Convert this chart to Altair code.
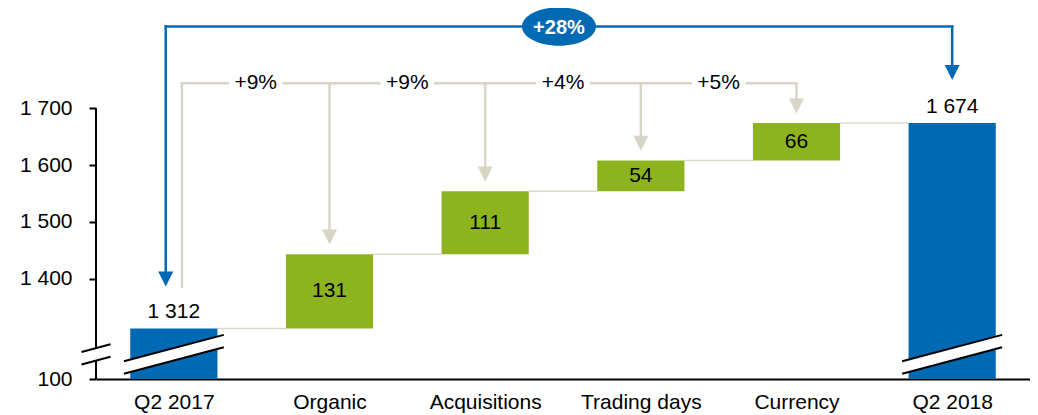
import altair as alt
import pandas as pd

# ---------------- data ----------------
categories = ["Q2 2017", "Organic", "Acquisitions", "Trading days", "Currency", "Q2 2018"]
start_value = 1312
deltas = [131, 111, 54, 66]
end_value = 1674
step_pct_labels = ["+9%", "+9%", "+4%", "+5%"]
total_pct_label = "+28%"
y_tick_values = [1400, 1500, 1600, 1700]
y_floor_label = "100"

# ---------------- style / layout constants ----------------
FONT = "Liberation Sans"
FS = 21
BLUE = "#0069B4"
GREEN = "#8DB41F"
GREY = "#D8D4C6"
CONN = "#DCD8CC"
Y_MIN, Y_MAX = 1223, 1875
BAR_HALF = 0.28
BRACKET_Y = 1744
TOTAL_Y = 1844
TIP_GAP = 17
BIG_GAP = 74
TEXT_GAP = 0.18
BLUE_LEFT_X = -0.052
GREY_LEFT_X = 0.052
BRK_Y = 1266.5
BRK_HX = 0.321
BRK_DY = 23.3
BRK_G = 11
AX_BRK_HX = 0.093
AX_BRK_DY = 6.8

n = len(categories)
xs = list(range(n))

levels = [start_value]
for d in deltas:
    levels.append(levels[-1] + d)

def fmt(v):
    return f"{v:,}".replace(",", " ")

bars = []
bars.append(dict(x=0, lo=0, hi=start_value, kind="total", label=fmt(start_value)))
for i, d in enumerate(deltas):
    bars.append(dict(x=i + 1, lo=levels[i], hi=levels[i + 1], kind="delta", label=str(d)))
bars.append(dict(x=n - 1, lo=0, hi=end_value, kind="total", label=fmt(end_value)))
bars_df = pd.DataFrame(bars)
bars_df["x1"] = bars_df["x"] - BAR_HALF
bars_df["x2"] = bars_df["x"] + BAR_HALF
bars_df["mid"] = (bars_df["lo"] + bars_df["hi"]) / 2

xscale = alt.Scale(domain=[-0.5, n - 0.5], nice=False, zero=False)
yscale = alt.Scale(domain=[Y_MIN, Y_MAX], nice=False, zero=False, clamp=True)

label_expr = "[" + ",".join("'" + c + "'" for c in categories) + "][datum.value]"
y_label_expr = (
    f"datum.value < {Y_MIN + 1} ? '{y_floor_label}' : "
    "replace(format(datum.value, ','), ',', ' ')"
)

x_axis = alt.Axis(values=xs, labelExpr=label_expr, ticks=False, grid=False,
                  domain=True, domainColor="#000000", domainWidth=2,
                  labelFont=FONT, labelFontSize=FS, labelColor="#000000",
                  labelPadding=12, labelBaseline="top", title=None)
y_axis = alt.Axis(values=[Y_MIN] + y_tick_values, labelExpr=y_label_expr,
                  domain=False, grid=False, tickColor="#000000", tickSize=7,
                  tickWidth=2, labelFont=FONT, labelFontSize=FS,
                  labelColor="#000000", labelPadding=17, title=None)


def X(field):
    return alt.X(field, scale=xscale, axis=x_axis)


def Y(field):
    return alt.Y(field, scale=yscale, axis=y_axis)


bar_layer = alt.Chart(bars_df).mark_rect().encode(
    x=X("x1:Q"), x2="x2:Q",
    y=Y("lo:Q"), y2="hi:Q",
    color=alt.Color("kind:N", scale=alt.Scale(domain=["total", "delta"], range=[BLUE, GREEN]),
                    legend=None),
)

axis_df = pd.DataFrame([dict(x=-0.5, y1=Y_MIN, y2=y_tick_values[-1])])
axis_line = alt.Chart(axis_df).mark_rule(color="#000000", strokeWidth=2).encode(
    x=X("x:Q"), y=Y("y1:Q"), y2="y2:Q",
)

conn = []
for i in range(n - 1):
    conn.append(dict(x1=i + BAR_HALF, x2=i + 1 - BAR_HALF, y=levels[min(i, len(levels) - 1)]))
conn_layer = alt.Chart(pd.DataFrame(conn)).mark_rule(color=CONN, strokeWidth=1.5).encode(
    x=X("x1:Q"), x2="x2:Q", y=Y("y:Q"),
)

top_labels = alt.Chart(bars_df[bars_df["kind"] == "total"]).mark_text(
    font=FONT, fontSize=FS, color="#000000", baseline="alphabetic", dy=-10.5
).encode(x=X("x:Q"), y=Y("hi:Q"), text="label:N")
in_labels = alt.Chart(bars_df[bars_df["kind"] == "delta"]).mark_text(
    font=FONT, fontSize=FS, color="#000000", baseline="middle"
).encode(x=X("x:Q"), y=Y("mid:Q"), text="label:N")

vx = [GREY_LEFT_X] + [i + 1 for i in range(len(deltas))]
gh, gv, gt, gtips = [], [], [], []
for k in range(len(deltas)):
    left, right = vx[k], vx[k + 1]
    mid = (left + right) / 2
    gh.append(dict(x1=left, x2=mid - TEXT_GAP, y=BRACKET_Y))
    gh.append(dict(x1=mid + TEXT_GAP, x2=right, y=BRACKET_Y))
    gt.append(dict(x=mid, y=BRACKET_Y, label=step_pct_labels[k]))
gv.append(dict(x=vx[0], y1=start_value + BIG_GAP, y2=BRACKET_Y))
for i in range(len(deltas)):
    tip = levels[i + 1] + TIP_GAP
    gv.append(dict(x=vx[i + 1], y1=tip + 8, y2=BRACKET_Y))
    gtips.append(dict(x=vx[i + 1], y=tip))

gh_layer = alt.Chart(pd.DataFrame(gh)).mark_rule(color=GREY, strokeWidth=2.5, strokeCap="square").encode(
    x=X("x1:Q"), x2="x2:Q", y=Y("y:Q"),
)
gv_layer = alt.Chart(pd.DataFrame(gv)).mark_rule(color=GREY, strokeWidth=2.5, strokeCap="square").encode(
    x=X("x:Q"), y=Y("y1:Q"), y2="y2:Q",
)
TRI = "M-1,-2 L1,-2 L0,0 Z"
gtip_layer = alt.Chart(pd.DataFrame(gtips)).mark_point(
    shape=TRI, filled=True, size=225, color=GREY, opacity=1, strokeWidth=0
).encode(x=X("x:Q"), y=Y("y:Q"))
gt_layer = alt.Chart(pd.DataFrame(gt)).mark_text(
    font=FONT, fontSize=FS, color="#000000", baseline="middle"
).encode(x=X("x:Q"), y=Y("y:Q"), text="label:N")

bh = [dict(x1=BLUE_LEFT_X, x2=n - 1, y=TOTAL_Y)]
bv = [dict(x=BLUE_LEFT_X, y1=start_value + BIG_GAP + 8, y2=TOTAL_Y),
      dict(x=n - 1, y1=end_value + BIG_GAP + 10, y2=TOTAL_Y)]
btips = [dict(x=BLUE_LEFT_X, y=start_value + BIG_GAP),
         dict(x=n - 1, y=end_value + BIG_GAP + 2)]
bh_layer = alt.Chart(pd.DataFrame(bh)).mark_rule(color=BLUE, strokeWidth=2.5, strokeCap="square").encode(
    x=X("x1:Q"), x2="x2:Q", y=Y("y:Q"),
)
bv_layer = alt.Chart(pd.DataFrame(bv)).mark_rule(color=BLUE, strokeWidth=2.5, strokeCap="square").encode(
    x=X("x:Q"), y=Y("y1:Q"), y2="y2:Q",
)
btip_layer = alt.Chart(pd.DataFrame(btips)).mark_point(
    shape=TRI, filled=True, size=225, color=BLUE, opacity=1, strokeWidth=0
).encode(x=X("x:Q"), y=Y("y:Q"))
ell_df = pd.DataFrame([dict(x=(BLUE_LEFT_X + n - 1) / 2, y=TOTAL_Y, label=total_pct_label)])
ELLIPSE = "M-1,0 A1,0.52 0 1,1 1,0 A1,0.52 0 1,1 -1,0 Z"
ell_layer = alt.Chart(ell_df).mark_point(
    shape=ELLIPSE, filled=True, size=5476, color=BLUE, opacity=1, strokeWidth=0
).encode(x=X("x:Q"), y=Y("y:Q"))
ell_text = alt.Chart(ell_df).mark_text(
    font=FONT, fontSize=20, fontWeight="bold", color="#FFFFFF", baseline="middle", dy=1
).encode(x=X("x:Q"), y=Y("y:Q"), text="label:N")

brk_area, brk_lines = [], []
breaks = [(0, BRK_HX, BRK_DY), (n - 1, BRK_HX, BRK_DY), (-0.5, AX_BRK_HX, AX_BRK_DY)]
for j, (cx, hx, dy) in enumerate(breaks):
    for sx in (-1, 1):
        yc = BRK_Y + sx * dy
        brk_area.append(dict(id=j, x=cx + sx * hx, lo=yc - BRK_G, hi=yc + BRK_G))
    for g in (-BRK_G, BRK_G):
        brk_lines.append(dict(x1=cx - hx, y1=BRK_Y - dy + g, x2=cx + hx, y2=BRK_Y + dy + g))

brk_area_layer = alt.Chart(pd.DataFrame(brk_area)).mark_area(color="#FFFFFF", opacity=1).encode(
    x=X("x:Q"), y=Y("hi:Q"), y2="lo:Q", detail="id:N",
)
brk_line_layer = alt.Chart(pd.DataFrame(brk_lines)).mark_rule(color="#000000", strokeWidth=2).encode(
    x=X("x1:Q"), x2="x2:Q", y=Y("y1:Q"), y2="y2:Q",
)

chart = alt.layer(
    conn_layer, bar_layer, axis_line, brk_area_layer, brk_line_layer,
    top_labels, in_labels,
    gh_layer, gv_layer, gtip_layer, gt_layer,
    bh_layer, bv_layer, btip_layer, ell_layer, ell_text,
).properties(
    width=934, height=370,
    autosize=alt.AutoSizeParams(type="none"),
    padding={"left": 88, "top": 1, "right": 0, "bottom": 35},
    background="#FFFFFF",
).configure_view(stroke=None)

chart.save("out.html", embed_options={"renderer": "svg", "actions": False})
